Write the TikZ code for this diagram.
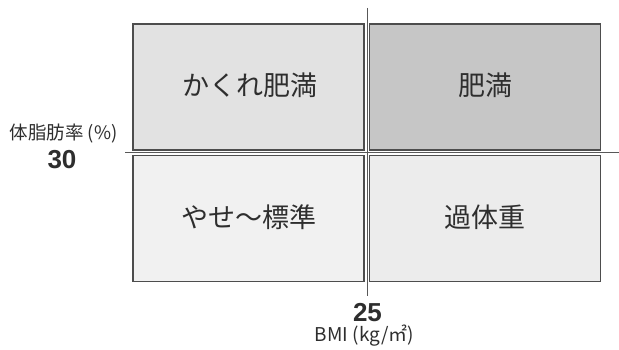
\documentclass[tikz,border=0pt]{standalone}
\usepackage{fontspec}
\setmainfont{Liberation Sans}
\newfontfamily\jp{Noto Sans CJK JP}
\definecolor{tlfill}{HTML}{E2E2E2}
\definecolor{trfill}{HTML}{C6C6C6}
\definecolor{blfill}{HTML}{F1F1F1}
\definecolor{brfill}{HTML}{ECECEC}
\definecolor{ink}{HTML}{2E2E2E}
\begin{document}
\begin{tikzpicture}[x=1pt,y=-1pt,
  quad/.style={draw=ink!85,line width=1.3pt,minimum width=231pt,minimum height=126pt,inner sep=0pt,anchor=center,text=ink,font=\jp\fontsize{27}{27}\selectfont},
  axis/.style={draw=ink!80,line width=1pt},
  lbl/.style={text=ink,inner sep=0pt}]
\useasboundingbox (0,0) rectangle (619,350);
\node[quad,fill=tlfill] (tl) at (248.5,87) {};
\node[quad,fill=trfill] (tr) at (485,87) {};
\node[quad,fill=blfill] (bl) at (248.5,218.5) {};
\node[quad,fill=brfill] (br) at (485,218.5) {};
\node[lbl,font=\jp\fontsize{27}{27}\selectfont] (tlt) at (249.5,85.5) {かくれ肥満};
\node[lbl,font=\jp\fontsize{27}{27}\selectfont] (trt) at (485.5,85.5) {肥満};
\node[lbl,font=\jp\fontsize{27}{27}\selectfont] (blt) at (249,217) {やせ〜標準};
\node[lbl,font=\jp\fontsize{27}{27}\selectfont] (brt) at (485,217) {過体重};
\coordinate (vtop) at (367,8);
\coordinate (vbot) at (367,296);
\coordinate (hl) at (125,152.5);
\coordinate (hr) at (619,152.5);
\draw[axis] (vtop) -- (vbot);
\draw[axis] (hl) -- (hr);
\node[lbl,font=\jp\fontsize{18.5}{18.5}\selectfont] (ylab) at (63.5,133.5) {体脂肪率 (\%)};
\node[lbl,font=\bfseries\fontsize{26}{26}\selectfont] (y30) at (62,160) {30};
\node[lbl,font=\bfseries\fontsize{26}{26}\selectfont] (x25) at (367.5,312.5) {25};
\node[lbl,font=\jp\fontsize{19}{19}\selectfont] (xlab) at (364.5,336) {BMI (kg/㎡)};
\end{tikzpicture}
\end{document}
